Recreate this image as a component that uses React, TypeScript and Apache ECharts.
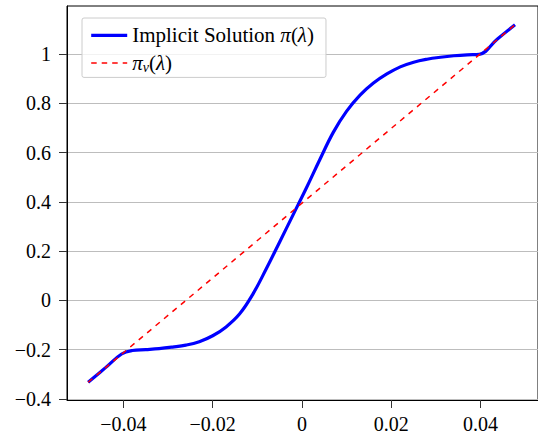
import React, { useEffect, useRef } from "react";
import * as echarts from "echarts";

const FONT = "Liberation Serif, DejaVu Serif, serif";

// tick values
const xTicks = [-0.04, -0.02, 0, 0.02, 0.04];
const yTicks = [-0.4, -0.2, 0, 0.2, 0.4, 0.6, 0.8, 1];

// Implicit solution pi(lambda)
const lambdaBlue = [
  -0.0479, -0.044, -0.0404, -0.038, -0.035, -0.032, -0.029, -0.026, -0.023, -0.02,
  -0.017, -0.014, -0.011, -0.008, -0.005, -0.002, 0.001, 0.004, 0.007, 0.01,
  0.013, 0.016, 0.019, 0.022, 0.025, 0.028, 0.031, 0.034, 0.037, 0.0397, 0.0437,
  0.0477,
];
const piBlue = [
  -0.333, -0.2735, -0.218, -0.204, -0.2005, -0.1965, -0.19, -0.182, -0.168, -0.144,
  -0.108, -0.056, 0.025, 0.128, 0.237, 0.347, 0.457, 0.572, 0.682, 0.768,
  0.833, 0.882, 0.919, 0.948, 0.967, 0.979, 0.987, 0.993, 0.997, 0.999, 1.06,
  1.119,
];

// pi_nu(lambda)
const lambdaRed = [-0.0479, 0.0477];
const piRed = [-0.333, 1.119];

const seriesNames = ["Implicit Solution π(λ)", "π_ν(λ)"];

function fmt(v: number): string {
  if (Math.abs(v) < 1e-9) return "0";
  const s = String(+v.toFixed(2));
  return s.replace("-", "\u2212");
}

export default function App() {
  const ref = useRef<HTMLDivElement>(null);
  useEffect(() => {
    if (!ref.current) return;
    const chart = echarts.init(ref.current, null, { renderer: "svg" });
    const blueData = lambdaBlue.map((l, i) => [l, piBlue[i]]);
    const redData = lambdaRed.map((l, i) => [l, piRed[i]]);
    chart.setOption({
      animation: false,
      backgroundColor: "#ffffff",
      grid: {
        left: 67,
        top: 6,
        width: 472,
        height: 394,
        show: true,
        borderColor: "#000",
        borderWidth: 1,
        backgroundColor: "transparent",
      },
      legend: {
        orient: "vertical",
        left: 82,
        top: 18,
        itemWidth: 36,
        itemHeight: 14,
        itemGap: 5.6,
        padding: [6.4, 12, 3.4, 7.6],
        backgroundColor: "rgba(255,255,255,0.8)",
        borderColor: "#cccccc",
        borderWidth: 1,
        borderRadius: 2,
        z: 6,
        selectedMode: false,
        itemStyle: { opacity: 0, borderWidth: 0 },
        data: [
          { name: seriesNames[0], lineStyle: { width: 3.2, color: "#0000ff" } },
          { name: seriesNames[1], lineStyle: { width: 1.5, color: "#ff0000", type: [5.5, 5] } },
        ],
        formatter: (name: string) => {
          if (name === seriesNames[0]) return "Implicit Solution {m|π}({m|λ})";
          return "{m|π}{s|ν}({m|λ})";
        },
        textStyle: {
          fontFamily: FONT,
          fontSize: 21,
          lineHeight: 22,
          color: "#000",
          rich: {
            m: { fontFamily: FONT, fontSize: 21, lineHeight: 22, fontStyle: "italic", color: "#000" },
            s: { fontFamily: FONT, fontSize: 14, lineHeight: 10, fontStyle: "italic", color: "#000", verticalAlign: "bottom" },
          },
        },
      },
      xAxis: {
        type: "value",
        min: -0.05263,
        max: 0.05285,
        axisLine: { show: true, onZero: false, lineStyle: { color: "#000", width: 1 } },
        axisTick: { show: true, length: 8, inside: false, customValues: xTicks, lineStyle: { color: "#333", width: 1 } },
        axisLabel: {
          customValues: xTicks,
          formatter: fmt,
          fontFamily: FONT,
          fontSize: 20,
          color: "#000",
          margin: 14,
        },
        splitLine: { show: false },
      },
      yAxis: {
        type: "value",
        min: -0.4049,
        max: 1.1951,
        axisLine: { show: true, onZero: false, lineStyle: { color: "#000", width: 1 } },
        axisTick: { show: true, length: 8, inside: false, customValues: yTicks, lineStyle: { color: "#333", width: 1 } },
        axisLabel: {
          customValues: yTicks,
          formatter: fmt,
          fontFamily: FONT,
          fontSize: 20,
          color: "#000",
          margin: 16,
        },
        splitLine: { show: true, lineStyle: { color: "#bdbdbd", width: 1 } },
      },
      series: [
        {
          name: seriesNames[0],
          type: "line",
          data: blueData,
          symbol: "none",
          showSymbol: false,
          smooth: 0.4,
          itemStyle: { color: "#0000ff" },
          lineStyle: { color: "#0000ff", width: 3.2 },
          z: 2,
        },
        {
          name: seriesNames[1],
          type: "line",
          data: redData,
          symbol: "none",
          showSymbol: false,
          itemStyle: { color: "#ff0000" },
          lineStyle: { color: "#ff0000", width: 1.5, type: [5.5, 5.5] },
          z: 3,
        },
      ],
    });
    return () => chart.dispose();
  }, []);
  return (
    <div
      ref={ref}
      style={{ position: "fixed", left: 0, top: 0, width: 538, height: 436 }}
    />
  );
}
